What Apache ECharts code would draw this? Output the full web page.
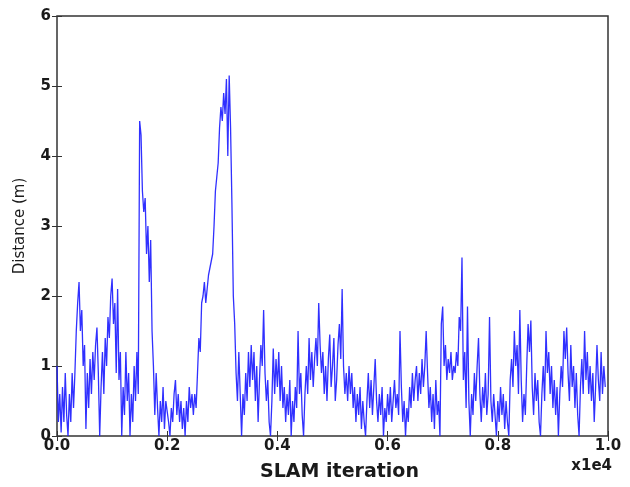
<!DOCTYPE html>
<html>
<head>
<meta charset="utf-8">
<script src="https://cdn.jsdelivr.net/npm/echarts@6/dist/echarts.min.js"></script>
<style>
  html, body { margin: 0; padding: 0; background: #fff; }
  #chart { width: 630px; height: 487px; }
</style>
</head>
<body>
<div id="chart"></div>
<script>
// Sampling step of the distance trace (SLAM iterations between samples)
const iterationStep = 25;

// Distance error (m), one block per 1000 iterations
const distance = [
  // 0 - 975
  1.0, 0.2, 0.6, 0.05, 0.7, 0.2, 0.9, 0.3, 0.0, 0.6, 0.2, 0.9, 0.4, 0.9, 1.5, 1.9, 2.2, 1.5, 1.8, 1.0,
  1.3, 0.1, 0.9, 0.4, 1.1, 0.6, 1.2, 0.8, 1.3, 1.55, 0.9, 0.0, 0.7, 1.2, 0.6, 1.4, 1.0, 1.7, 1.4, 2.0,
  // 1000 - 1975
  2.25, 1.6, 1.9, 0.9, 2.1, 0.8, 1.2, 0.0, 0.7, 0.3, 1.2, 0.5, 0.9, 0.0, 0.6, 0.2, 1.0, 0.5, 1.2, 0.6,
  4.5, 4.3, 3.5, 3.2, 3.4, 2.6, 3.0, 2.2, 2.8, 1.5, 1.0, 0.3, 0.9, 0.4, 0.0, 0.5, 0.2, 0.7, 0.1, 0.5,
  // 2000 - 2975
  0.5, 0.2, 0.0, 0.4, 0.2, 0.6, 0.8, 0.3, 0.6, 0.2, 0.5, 0.1, 0.4, 0.0, 0.5, 0.2, 0.7, 0.4, 0.6, 0.3,
  0.6, 0.4, 0.9, 1.4, 1.2, 1.9, 2.0, 2.2, 1.9, 2.1, 2.3, 2.4, 2.5, 2.6, 3.0, 3.5, 3.7, 3.9, 4.4, 4.7,
  // 3000 - 3975
  4.5, 4.9, 4.6, 5.1, 4.0, 5.15, 4.4, 3.3, 2.0, 1.6, 0.9, 0.5, 1.2, 0.6, 0.0, 0.6, 0.3, 0.9, 0.5, 1.2,
  0.7, 1.3, 0.8, 1.2, 0.5, 1.0, 0.2, 0.8, 1.3, 1.0, 1.8, 0.9, 0.5, 0.8, 0.2, 0.0, 0.5, 1.25, 0.6, 1.1,
  // 4000 - 4975
  0.7, 1.2, 0.5, 1.0, 0.4, 0.7, 0.2, 0.6, 0.3, 0.8, 0.0, 0.5, 0.2, 0.7, 0.4, 1.5, 0.6, 0.9, 0.3, 0.0,
  0.6, 1.0, 0.6, 1.4, 0.8, 1.2, 0.7, 1.1, 1.4, 1.0, 1.9, 1.3, 0.9, 1.2, 0.6, 1.0, 0.5, 1.1, 1.45, 0.7,
  // 5000 - 5975
  1.0, 1.4, 0.5, 0.8, 1.3, 1.6, 1.1, 2.1, 1.0, 0.6, 0.9, 0.5, 1.0, 0.6, 0.9, 0.4, 0.7, 0.2, 0.6, 0.3,
  0.7, 0.1, 0.5, 0.2, 0.0, 0.5, 0.9, 0.4, 0.8, 0.3, 0.7, 1.1, 0.5, 0.2, 0.6, 0.3, 0.7, 0.0, 0.4, 0.2,
  // 6000 - 6975
  0.6, 0.3, 0.7, 0.2, 0.5, 0.8, 0.4, 0.6, 0.3, 1.5, 0.7, 0.2, 0.5, 0.0, 0.4, 0.2, 0.7, 0.4, 0.9, 0.5,
  0.8, 1.0, 0.5, 0.9, 0.6, 1.1, 0.7, 1.0, 1.5, 0.9, 0.4, 0.7, 0.2, 0.6, 0.1, 0.8, 0.3, 0.5, 0.0, 1.6,
  // 7000 - 7975
  1.85, 1.0, 1.3, 0.8, 1.1, 0.9, 1.2, 0.8, 1.0, 0.9, 1.2, 1.0, 1.7, 1.5, 2.55, 0.8, 1.2, 0.4, 1.85, 0.5,
  0.0, 0.6, 0.3, 0.9, 0.5, 1.0, 1.4, 0.6, 0.2, 0.7, 0.4, 0.9, 0.3, 0.6, 1.7, 0.5, 0.2, 0.6, 0.3, 0.0,
  // 8000 - 8975
  0.5, 0.2, 0.7, 0.3, 0.6, 0.1, 0.5, 0.2, 0.0, 0.8, 1.1, 0.7, 1.5, 1.0, 1.3, 0.6, 1.8, 0.8, 0.2, 0.6,
  0.3, 1.0, 1.6, 1.2, 1.65, 0.7, 0.3, 0.9, 0.5, 0.8, 0.2, 0.0, 0.6, 1.0, 0.5, 1.5, 0.9, 1.2, 0.6, 1.0,
  // 9000 - 9950
  0.4, 0.8, 0.3, 0.7, 0.0, 0.6, 1.0, 0.7, 1.5, 1.1, 1.55, 0.9, 0.5, 1.3, 0.7, 1.0, 0.4, 0.9, 0.3, 0.0,
  0.7, 1.1, 0.6, 1.5, 0.8, 1.2, 0.6, 1.0, 0.5, 0.9, 0.2, 0.7, 1.3, 0.8, 0.5, 1.2, 0.6, 1.0, 0.7
];

// Axis settings
const xTicks = [0, 2000, 4000, 6000, 8000, 10000];
const yTicks = [0, 1, 2, 3, 4, 5, 6];
const xTitle = 'SLAM iteration';
const yTitle = 'Distance (m)';
const xScaleNote = 'x1e4';

const points = distance.map((v, i) => [i * iterationStep, v]);

const labelFont = { fontFamily: 'DejaVu Sans', fontSize: 15, fontWeight: 'bold', color: '#1a1a1a' };
const frameColor = '#333';

const chart = echarts.init(document.getElementById('chart'), null, { renderer: 'canvas' });

const baseX = {
  type: 'value',
  min: xTicks[0],
  max: xTicks[xTicks.length - 1],
  interval: xTicks[1] - xTicks[0],
  splitLine: { show: false },
  axisLine: { show: false },
  axisTick: { show: true, inside: true, length: 5, lineStyle: { color: frameColor, width: 1 } }
};
const baseY = {
  type: 'value',
  min: yTicks[0],
  max: yTicks[yTicks.length - 1],
  interval: yTicks[1] - yTicks[0],
  splitLine: { show: false },
  axisLine: { show: false },
  axisTick: { show: true, inside: true, length: 5, lineStyle: { color: frameColor, width: 1 } }
};

chart.setOption({
  animation: false,
  backgroundColor: '#fff',
  grid: {
    left: 57, right: 22, top: 16, bottom: 45,
    show: true, borderColor: frameColor, borderWidth: 1.5, backgroundColor: 'transparent'
  },
  xAxis: [
    Object.assign({}, baseX, {
      position: 'bottom',
      name: xTitle,
      nameLocation: 'middle',
      nameGap: 27,
      nameTextStyle: { fontFamily: 'DejaVu Sans', fontSize: 19, fontWeight: 'bold', color: '#1a1a1a', padding: [0, 0, 0, 14] },
      axisLabel: Object.assign({}, labelFont, {
        margin: 3,
        formatter: v => (v / 10000).toFixed(1)
      })
    }),
    Object.assign({}, baseX, { position: 'top', axisLabel: { show: false } })
  ],
  yAxis: [
    Object.assign({}, baseY, {
      position: 'left',
      name: yTitle,
      nameLocation: 'middle',
      nameGap: 29,
      nameRotate: 90,
      nameTextStyle: { fontFamily: 'DejaVu Sans', fontSize: 15, color: '#1a1a1a' },
      axisLabel: Object.assign({}, labelFont, { margin: 6 })
    }),
    Object.assign({}, baseY, { position: 'right', axisLabel: { show: false } })
  ],
  graphic: [{
    type: 'text',
    right: 18,
    top: 459,
    style: { text: xScaleNote, font: 'bold 15px "DejaVu Sans"', fill: '#1a1a1a' }
  }],
  series: [{
    type: 'line',
    xAxisIndex: 0,
    yAxisIndex: 0,
    data: points,
    showSymbol: false,
    lineStyle: { color: '#1a1aff', width: 1.3, opacity: 0.9 },
    z: 1
  }]
});
</script>
</body>
</html>
